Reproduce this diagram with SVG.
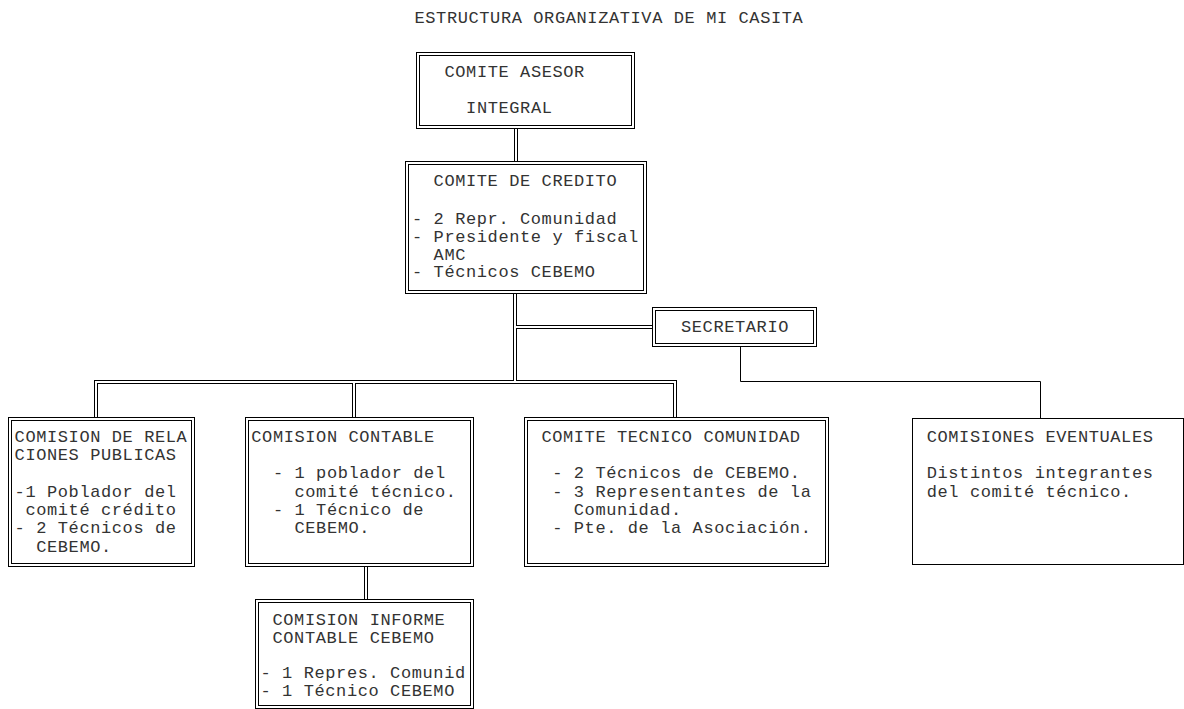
<svg xmlns="http://www.w3.org/2000/svg" width="1184" height="709" viewBox="0 0 1184 709">
<style>
text { font-family: "Liberation Mono", "DejaVu Sans Mono", monospace; font-size: 17px; letter-spacing: 0.6px; fill: #333; }
.o { fill: #fff; stroke: #000; stroke-width: 1; }
.i { fill: none; stroke: #000; stroke-width: 1; }
.cb { fill: none; stroke: #000; stroke-width: 4; stroke-linejoin: miter; }
.cw { fill: none; stroke: #fff; stroke-width: 2; stroke-linejoin: miter; }
.s { fill: none; stroke: #000; stroke-width: 1; }
</style>
<defs>
<path id="c1" d="M516,127 V162"/>
<path id="c2" d="M96,418 V382 H675 V418"/>
<path id="c3" d="M515,292 V382"/>
<path id="c4" d="M515,327 H653"/>
<path id="c5" d="M354,382 V418"/>
<path id="c6" d="M366,565 V600"/>
</defs>
<rect x="0" y="0" width="1184" height="709" fill="#fff"/>
<text id="title" x="414.5" y="23">ESTRUCTURA ORGANIZATIVA DE MI CASITA</text>
<g id="connectors">
<g class="cb"><use href="#c1"/><use href="#c2"/><use href="#c3"/><use href="#c4"/><use href="#c5"/><use href="#c6"/></g>
<g class="cw"><use href="#c1"/><use href="#c2"/><use href="#c3"/><use href="#c4"/><use href="#c5"/><use href="#c6"/></g>
<path class="s" d="M740.5,346 V381.5 H1040.5 V419"/>
</g>
<g id="asesor">
<rect class="o" x="416.5" y="52.5" width="218" height="76"/>
<rect class="i" x="419.5" y="55.5" width="212" height="70"/>
<text x="444.5" y="77">COMITE ASESOR</text>
<text x="466.1" y="113">INTEGRAL</text>
</g>
<g id="credito">
<rect class="o" x="405.5" y="161.5" width="241" height="132"/>
<rect class="i" x="408.5" y="164.5" width="235" height="126"/>
<text x="433.6" y="186">COMITE DE CREDITO</text>
<text x="412" y="224">- 2 Repr. Comunidad</text>
<text x="412" y="241.8">- Presidente y fiscal</text>
<text x="433.6" y="259.6">AMC</text>
<text x="412" y="277.4">- Técnicos CEBEMO</text>
</g>
<g id="secretario">
<rect class="o" x="652.5" y="307.5" width="164" height="39"/>
<rect class="i" x="655.5" y="310.5" width="158" height="33"/>
<text x="681" y="332">SECRETARIO</text>
</g>
<g id="relaciones">
<rect class="o" x="8.5" y="417.5" width="186" height="149"/>
<rect class="i" x="11.5" y="420.5" width="180" height="143"/>
<text x="14.6" y="441.7">COMISION DE RELA</text>
<text x="14.6" y="460">CIONES PUBLICAS</text>
<text x="14.6" y="496.7">-1 Poblador del</text>
<text x="25.4" y="515">comité crédito</text>
<text x="14.6" y="533.3">- 2 Técnicos de</text>
<text x="36.2" y="551.7">CEBEMO.</text>
</g>
<g id="contable">
<rect class="o" x="245.5" y="417.5" width="228" height="149"/>
<rect class="i" x="248.5" y="420.5" width="222" height="143"/>
<text x="251.3" y="441.7">COMISION CONTABLE</text>
<text x="272.9" y="478.3">- 1 poblador del</text>
<text x="294.5" y="496.7">comité técnico.</text>
<text x="272.9" y="515">- 1 Técnico de</text>
<text x="294.5" y="533.3">CEBEMO.</text>
</g>
<g id="tecnico">
<rect class="o" x="524.5" y="417.5" width="304" height="149"/>
<rect class="i" x="527.5" y="420.5" width="298" height="143"/>
<text x="541.4" y="441.7">COMITE TECNICO COMUNIDAD</text>
<text x="552.2" y="478.3">- 2 Técnicos de CEBEMO.</text>
<text x="552.2" y="496.7">- 3 Representantes de la</text>
<text x="573.8" y="515">Comunidad.</text>
<text x="552.2" y="533.3">- Pte. de la Asociación.</text>
</g>
<g id="eventuales">
<rect class="o" x="912.5" y="418.5" width="271" height="146"/>
<text x="926.7" y="441.7">COMISIONES EVENTUALES</text>
<text x="926.7" y="478.3">Distintos integrantes</text>
<text x="926.7" y="496.7">del comité técnico.</text>
</g>
<g id="informe">
<rect class="o" x="255.5" y="599.5" width="218" height="109"/>
<rect class="i" x="258.5" y="602.5" width="212" height="103"/>
<text x="272.5" y="625">COMISION INFORME</text>
<text x="272.5" y="642.5">CONTABLE CEBEMO</text>
<text x="260.5" y="678.3">- 1 Repres. Comunid</text>
<text x="260.5" y="695.5">- 1 Técnico CEBEMO</text>
</g>
</svg>
